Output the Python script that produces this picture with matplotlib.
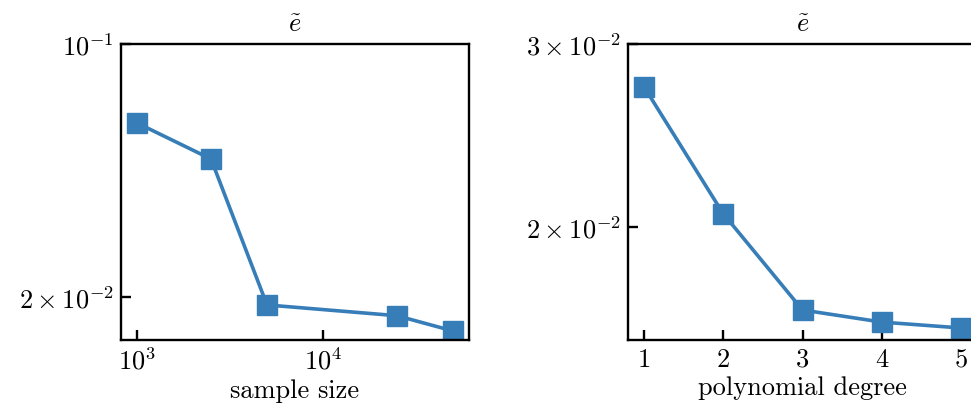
import numpy as np
import matplotlib
matplotlib.use("Agg")
import matplotlib.pyplot as plt
from matplotlib.ticker import NullLocator

# data
sample_sizes = [1000, 2500, 5000, 25000, 50000]
err_samples = [0.0605, 0.0481, 0.0190, 0.01774, 0.0161]
degrees = [1, 2, 3, 4, 5]
err_degrees = [0.0273, 0.0206, 0.01664, 0.0162, 0.01599]

plt.rcParams["font.family"] = "serif"
plt.rcParams["font.serif"] = ["cmr10"]
plt.rcParams["mathtext.fontset"] = "cm"
plt.rcParams["axes.formatter.use_mathtext"] = True
plt.rcParams["axes.unicode_minus"] = False

color = "#377eb8"
fs = 19

fig = plt.figure(figsize=(9.71, 4.14), dpi=100)
ax1 = fig.add_axes([121/971, 1-341/414, 348/971, 296/414])
ax2 = fig.add_axes([628/971, 1-341/414, 349/971, 296/414])

for ax in (ax1, ax2):
    ax.set_yscale("log")
    for s in ax.spines.values():
        s.set_linewidth(1.7)
    ax.tick_params(which="major", direction="in", length=7, width=1.7,
                   labelsize=fs, pad=5, top=False, right=False)
    ax.set_title(r"$\tilde{e}$", fontsize=fs, pad=9)

# left: sample size
ax1.plot(sample_sizes, err_samples, "-s", color=color, lw=2.6, ms=15)
ax1.set_xscale("log")
ax1.set_xlim(10**2.914, 10**4.785)
ax1.set_ylim(0.0152, 0.1)
ax1.set_xticks([1e3, 1e4])
ax1.set_yticks([0.02, 0.1])
ax1.xaxis.set_minor_locator(NullLocator())
ax1.yaxis.set_minor_locator(NullLocator())
ax1.set_xlabel("sample size", fontsize=fs, labelpad=3)

# right: polynomial degree
ax2.plot(degrees, err_degrees, "-s", color=color, lw=2.6, ms=15)
ax2.set_xlim(0.8, 5.2)
ax2.set_ylim(0.01557, 0.03)
ax2.set_xticks(degrees)
ax2.set_yticks([0.02, 0.03])
ax2.yaxis.set_minor_locator(NullLocator())
ax2.set_xlabel("polynomial degree", fontsize=fs, labelpad=3)

fig.savefig("out.png", dpi=100)
